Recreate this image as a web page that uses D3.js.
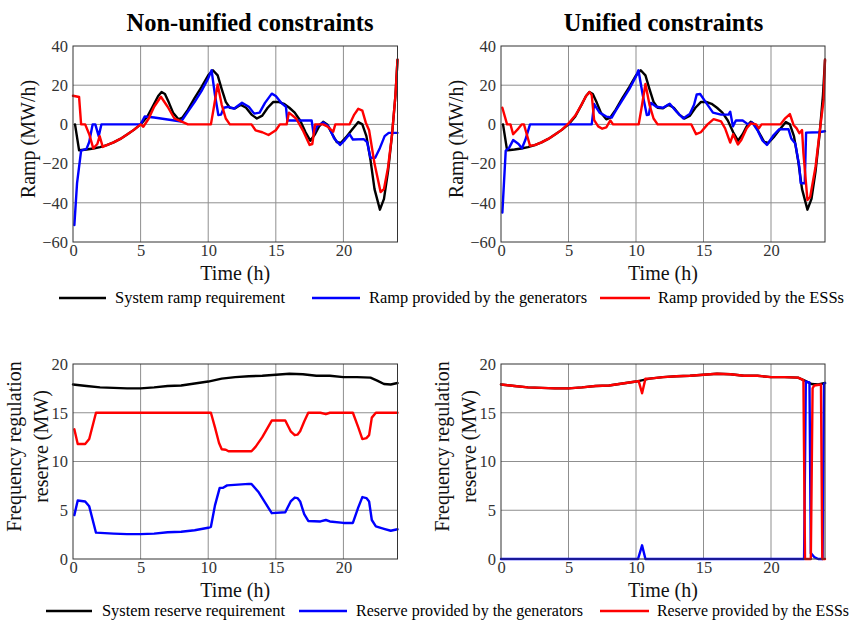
<!DOCTYPE html>
<html><head><meta charset="utf-8">
<script src="https://cdn.jsdelivr.net/npm/d3@7"></script>
<style>
html,body{margin:0;padding:0;background:#fff;}
svg{display:block;}
svg text{font-family:"Liberation Serif","Times New Roman",Times,serif !important;}
</style></head>
<body>
<svg id="chart" width="856" height="621"></svg>
<script>
// ---------- DATA ----------
const panelTitles = ["Non-unified constraints", "Unified constraints"];
const xTicks = [0, 5, 10, 15, 20];
const rampTicks = [-60, -40, -20, 0, 20, 40];
const reserveTicks = [0, 5, 10, 15, 20];
const rampLegend = ["System ramp requirement", "Ramp provided by the generators", "Ramp provided by the ESSs"];
const reserveLegend = ["System reserve requirement", "Reserve provided by the generators", "Reserve provided by the ESSs"];

// System ramp requirement (MW/h) [time h, value]
const rampReq = [[0.15,0],[0.45,-13.2],[1,-12.8],[1.5,-12.3],[2,-11.6],[2.5,-10.6],[3,-9.2],[3.5,-7.4],[4,-5.2],[4.5,-2.8],[5,0],[5.5,4],[6,10.5],[6.3,14.5],[6.55,16.5],[6.8,15.5],[7.1,11],[7.4,6],[7.8,2.6],[8.1,3.5],[8.5,7.5],[9,13.5],[9.5,19],[10,25],[10.35,27.6],[10.7,25],[11,18],[11.3,11.5],[11.6,8.5],[12,8.2],[12.4,10],[12.8,8.5],[13.2,5],[13.6,3],[14,4.5],[14.4,8.5],[14.8,11.4],[15.2,11.5],[15.6,10.5],[16,8.5],[16.4,6],[16.8,2],[17.2,-4],[17.55,-8.3],[17.9,-5],[18.2,-1],[18.5,1.3],[18.8,0],[19.1,-4],[19.5,-9],[19.8,-9.5],[20.2,-6.5],[20.6,-3],[21.1,1.2],[21.4,0],[21.7,-6],[22,-18],[22.3,-33],[22.7,-43.5],[23,-38],[23.3,-24],[23.6,-5],[23.85,15],[24,33]];

// Non-unified: generators / ESSs ramp
const rampGenNU = [[0.1,-51.4],[0.3,-30],[0.6,-13.4],[1,-12.5],[1.2,-9],[1.45,0],[1.65,0],[1.9,-6],[2.1,0],[5,0],[5.3,4],[6,3.5],[7,2.5],[8,1.5],[8.5,6.5],[9,11.5],[9.5,17],[10,23.5],[10.25,27.6],[10.5,15],[10.75,4.8],[10.95,5],[11.15,8.5],[11.5,9],[11.9,8],[12.5,11],[13,9],[13.4,5.5],[13.8,6],[14.2,11],[14.7,15.7],[15,14.5],[15.4,11],[15.75,9],[15.85,2],[17.65,2],[17.8,-5],[18.05,-1],[18.5,1],[18.9,-1],[19.3,-7],[19.75,-10.5],[20.1,-8],[20.45,-5],[20.7,-7.7],[21.5,-7.5],[21.75,-9],[22,-17],[22.35,-17],[22.7,-12],[23.05,-6],[23.35,-4.3],[24,-4.3]];
const rampEssNU = [[0,14.6],[0.45,14],[0.6,0],[0.9,0],[1.2,-5],[1.5,-12.2],[1.8,-10],[1.97,-6],[2.2,-11.5],[2.5,-10.6],[3,-9.2],[3.5,-7.4],[4,-5.2],[4.5,-2.8],[5,0],[5.2,-1.2],[5.6,3],[6,9],[6.5,14.1],[7,9],[7.5,3],[8,1.5],[8.5,0],[10.2,0],[10.45,10],[10.7,20.4],[11,10],[11.3,3],[11.6,0],[13.2,0],[13.5,-3],[14,-4],[14.46,-5.4],[15,-3],[15.3,0],[15.8,0],[15.97,6],[16.5,3],[17,-3],[17.5,-10.5],[17.7,-10],[17.9,0],[18.5,0],[18.8,-1],[19.25,-3.7],[19.4,0],[20.45,0],[20.8,5],[21.1,8],[21.4,7],[21.65,1],[21.9,-3],[22.3,-20],[22.75,-34.5],[23,-33],[23.3,-22],[23.6,-5],[23.85,15],[24,33]];

// Unified: generators / ESSs ramp
const rampGenU = [[0.1,-45],[0.35,-13.4],[0.6,-12],[0.9,-8],[1.3,-10],[1.55,-12.2],[1.8,-8],[2.15,0],[6.72,0],[6.9,10.4],[7.3,6],[7.8,4],[8.2,3.5],[8.5,7],[9,12.5],[9.5,18],[10,24.5],[10.18,27.6],[10.5,15],[10.8,4.8],[10.95,5],[11.1,11],[11.5,9],[12,8.5],[12.5,10.5],[13,6.5],[13.5,3],[14,5.5],[14.3,10],[14.5,15.3],[14.75,15.5],[15.2,11],[15.7,6],[16.3,5],[16.85,5],[16.98,6.5],[17.18,-1],[17.4,2],[17.9,2],[18.3,0],[18.6,1],[19,-3],[19.35,-8],[19.7,-10.5],[20.2,-5.4],[20.6,-2.5],[21.3,-2.5],[21.5,-7.2],[21.8,-9.8],[22.1,-21.6],[22.2,-30],[22.5,-30],[22.6,-4.2],[23.5,-4],[24,-3.5]];
const rampEssU = [[0.1,8.5],[0.45,0],[0.7,0],[0.9,-5],[1.3,-2],[1.53,0],[1.7,0],[2.15,-10.9],[2.5,-10.6],[3,-9.2],[3.5,-7.4],[4,-5.2],[4.5,-2.8],[5,0.5],[5.5,4.5],[6,10.5],[6.3,14.5],[6.55,16.5],[6.72,15],[6.9,2.2],[7.2,-1],[7.5,-2.2],[7.8,-1.5],[8.1,2],[8.3,0],[10.2,0],[10.45,10],[10.7,20.6],[11,10],[11.3,3],[11.6,0],[14.1,0],[14.45,-5],[14.8,-4],[15.3,0],[15.75,2.7],[16.3,1.5],[16.6,-2],[16.98,-9.3],[17.2,-5],[17.55,-10.2],[17.8,-8],[18.2,-2],[18.5,0.5],[18.9,0],[19.1,-2],[19.3,0],[20.7,0],[21.05,3.1],[21.4,5.3],[21.67,-0.3],[21.9,-2],[22.1,-4.5],[22.3,-2.9],[22.4,-14.6],[22.7,-38.6],[22.9,-37],[23.3,-21.6],[23.65,-1.2],[23.9,12.5],[24,33]];

// System reserve requirement (MW)
const reserveReq = [[0,17.9],[1,17.75],[2,17.6],[3,17.55],[4,17.5],[5,17.5],[6,17.6],[7,17.75],[8,17.8],[9,18.0],[10,18.2],[11,18.5],[12,18.65],[13,18.75],[14,18.8],[15,18.9],[16,19.0],[17,18.95],[18,18.8],[19,18.8],[20,18.65],[21,18.65],[22,18.6],[22.5,18.3],[23,17.95],[23.5,17.9],[24,18.05]];

// Non-unified reserve
const resGenNU = [[0.1,4.5],[0.35,6],[0.9,5.9],[1.2,5.4],[1.7,2.7],[3,2.6],[4,2.55],[5,2.55],[6,2.6],[7,2.75],[8,2.8],[9,2.95],[10,3.2],[10.2,3.3],[10.5,5.5],[10.85,7.3],[11.1,7.3],[11.4,7.55],[13,7.7],[13.2,7.7],[13.7,6.9],[14.2,5.8],[14.7,4.7],[15.7,4.8],[16.1,5.9],[16.4,6.3],[16.6,6.25],[16.8,5.9],[17.1,4.6],[17.4,3.9],[18.3,3.85],[18.7,4.0],[19,3.85],[20,3.7],[20.7,3.7],[21.1,5.3],[21.4,6.35],[21.7,6.25],[21.9,5.9],[22.1,4.0],[22.4,3.35],[23,3.1],[23.5,2.9],[24,3.05]];
const resEssNU = [[0.1,13.3],[0.35,11.8],[0.9,11.8],[1.2,12.3],[1.7,15],[10.2,15],[10.5,13.5],[10.8,11.9],[11,11.25],[11.3,11.2],[11.5,11.05],[13.2,11.05],[13.5,11.5],[14,12.5],[14.7,14.2],[15.7,14.2],[16.1,13.1],[16.4,12.7],[16.6,12.75],[16.8,13.1],[17.1,14.1],[17.4,15],[18.3,15],[18.7,14.85],[19,15],[20.7,15],[21.1,13.5],[21.4,12.3],[21.7,12.4],[21.9,12.7],[22.1,14.5],[22.4,15],[24,15]];

// Unified reserve
const resGenU = [[0,0],[10.15,0],[10.45,1.4],[10.7,0],[22.45,0],[22.58,18.2],[22.85,18.1],[22.95,0.6],[23.2,0.2],[23.5,0],[23.82,0],[23.93,18],[24,18.05]];
const resEssU = [[0,17.9],[1,17.75],[2,17.6],[3,17.55],[4,17.5],[5,17.5],[6,17.6],[7,17.75],[8,17.8],[9,18.0],[10,18.2],[10.2,18.25],[10.45,17.0],[10.7,18.5],[11,18.5],[12,18.65],[13,18.75],[14,18.8],[15,18.9],[16,19.0],[17,18.95],[18,18.8],[19,18.8],[20,18.65],[21,18.65],[22,18.6],[22.4,18.35],[22.52,0],[22.95,0],[23.08,17.5],[23.2,17.8],[23.7,17.9],[23.8,0],[24,0]];

const colors = ["#000000", "#0000ff", "#ff0000"];

// ---------- DRAW ----------
const svg = d3.select("#chart");
const FONT = "Liberation Serif, Times New Roman, serif";

function panel(opt) {
  const {x0, x1, y0, y1, yDomain, yTicks, series, ylabel, labelShift} = opt;
  const x = d3.scaleLinear().domain([0, 24]).range([x0, x1]);
  const y = d3.scaleLinear().domain(yDomain).range([y1, y0]);
  const g = svg.append("g");
  // grid
  g.selectAll("line.gx").data(xTicks.filter(t => t > 0)).join("line")
    .attr("x1", d => x(d)).attr("x2", d => x(d)).attr("y1", y0).attr("y2", y1)
    .attr("stroke", "#8f8f8f").attr("stroke-width", 1);
  g.selectAll("line.gy").data(yTicks.filter(t => t > yDomain[0] && t < yDomain[1])).join("line")
    .attr("x1", x0).attr("x2", x1).attr("y1", d => y(d)).attr("y2", d => y(d))
    .attr("stroke", "#8f8f8f").attr("stroke-width", 1);
  // axes
  const ax = g.append("g").attr("transform", `translate(0,${y1})`)
    .call(d3.axisBottom(x).tickValues(xTicks).tickSize(0).tickPadding(2));
  const ay = g.append("g").attr("transform", `translate(${x0},0)`)
    .call(d3.axisLeft(y).tickValues(yTicks).tickSize(0).tickPadding(5));
  [ax, ay].forEach(a => {
    a.attr("font-family", FONT).attr("font-size", 16.5);
    a.select(".domain").remove();
    a.selectAll("text").attr("fill", "#333");
  });
  // series
  const line = d3.line().x(d => x(d[0])).y(d => y(d[1]));
  series.forEach((s, i) => {
    g.append("path").datum(s).attr("d", line).attr("fill", "none")
      .attr("stroke", colors[i]).attr("stroke-width", 2.4)
      .attr("stroke-linejoin", "round").attr("stroke-linecap", "round");
  });
  // box
  g.append("rect").attr("x", x0).attr("y", y0).attr("width", x1 - x0).attr("height", y1 - y0)
    .attr("fill", "none").attr("stroke", "#333").attr("stroke-width", 1);
  // x label
  g.append("text").attr("x", (x0 + x1) / 2).attr("y", y1 + 37.5).attr("text-anchor", "middle")
    .attr("font-size", 20).attr("fill", "#111").text("Time (h)");
  // y label
  ylabel.forEach((t, k) => {
    const xx = ylabel.length === 1 ? x0 - 38 : (k === 0 ? x0 - 52 : x0 - 25);
    g.append("text").attr("transform", `translate(${xx},${(y0 + y1) / 2 + labelShift}) rotate(-90)`)
      .attr("text-anchor", "middle").attr("font-size", 20).attr("fill", "#111").text(t);
  });
}

const cols = [[73, 397.5], [501, 825]];
panel({x0: cols[0][0], x1: cols[0][1], y0: 46, y1: 242, yDomain: [-60, 40], yTicks: rampTicks,
  series: [rampReq, rampGenNU, rampEssNU], ylabel: ["Ramp (MW/h)"], labelShift: -5});
panel({x0: cols[1][0], x1: cols[1][1], y0: 46, y1: 242, yDomain: [-60, 40], yTicks: rampTicks,
  series: [rampReq, rampGenU, rampEssU], ylabel: ["Ramp (MW/h)"], labelShift: -5});
panel({x0: cols[0][0], x1: cols[0][1], y0: 364, y1: 559, yDomain: [0, 20], yTicks: reserveTicks,
  series: [reserveReq, resGenNU, resEssNU], ylabel: ["Frequency regulation", "reserve (MW)"], labelShift: -15});
panel({x0: cols[1][0], x1: cols[1][1], y0: 364, y1: 559, yDomain: [0, 20], yTicks: reserveTicks,
  series: [reserveReq, resGenU, resEssU], ylabel: ["Frequency regulation", "reserve (MW)"], labelShift: -15});

// titles
svg.append("text").attr("x", 250).attr("y", 31).attr("text-anchor", "middle")
  .attr("font-size", 24.5).attr("font-weight", "bold").attr("fill", "#000").text(panelTitles[0]);
svg.append("text").attr("x", 663.5).attr("y", 31).attr("text-anchor", "middle")
  .attr("font-size", 24.5).attr("font-weight", "bold").attr("fill", "#000").text(panelTitles[1]);

// legends
function legend(labels, yy, items) {
  const lg = svg.append("g");
  items.forEach((it, i) => {
    lg.append("line").attr("x1", it[0]).attr("x2", it[1]).attr("y1", yy).attr("y2", yy)
      .attr("stroke", colors[i]).attr("stroke-width", 2.6);
    lg.append("text").attr("x", it[2]).attr("y", yy + 5).attr("font-size", 16)
      .attr("fill", "#000").attr("textLength", it[3]).attr("lengthAdjust", "spacingAndGlyphs")
      .text(labels[i]);
  });
}
legend(rampLegend, 298, [[59, 106, 115, 170], [312, 360, 369, 218], [600, 650, 658, 186]]);
legend(reserveLegend, 611, [[46, 92, 102, 183], [299, 347, 356, 227], [600, 649, 657, 192]]);
</script>
</body></html>
